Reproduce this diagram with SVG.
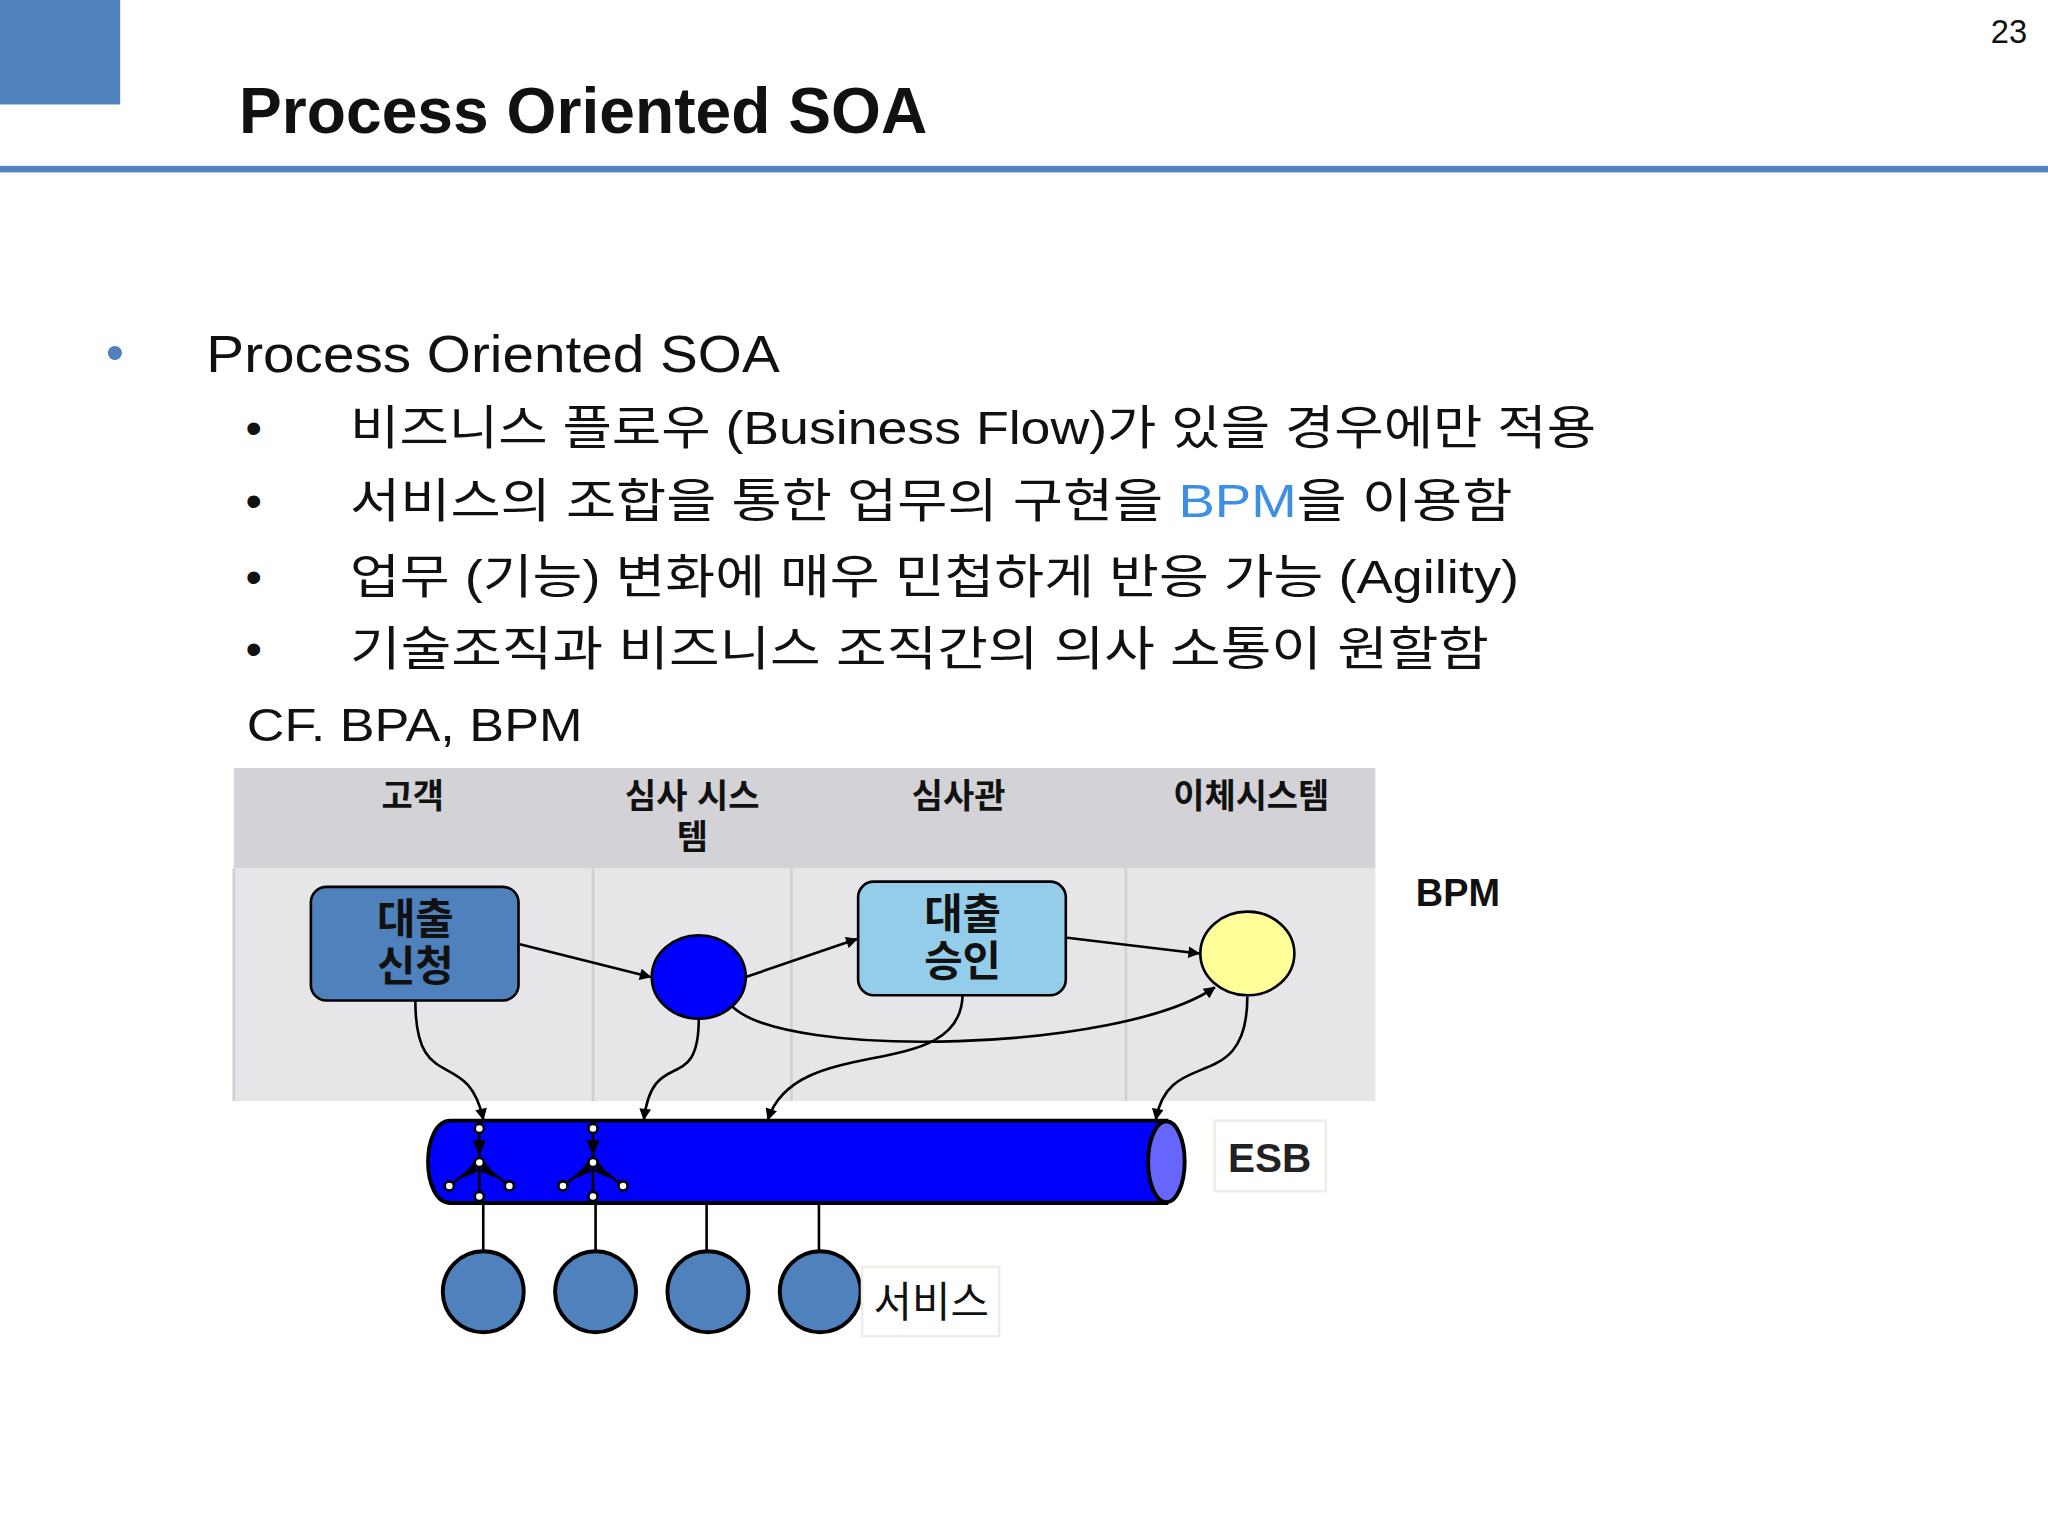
<svg xmlns="http://www.w3.org/2000/svg" width="2048" height="1536" viewBox="0 0 2048 1536">
<defs>
<marker id="ah" viewBox="0 0 10 10" refX="9" refY="5" markerWidth="10" markerHeight="9" orient="auto" markerUnits="userSpaceOnUse"><path d="M0,0 L10,5 L0,10 z" fill="#000"/></marker>
<style>
text{font-family:"Liberation Sans","Noto Sans CJK KR",sans-serif;fill:#111}
.t1{font-size:40px}
.t2{font-size:36px}
.hd{font-size:26px;font-weight:bold;text-anchor:middle}
.bx{font-size:32px;font-weight:bold;text-anchor:middle}
.cn{fill:none;stroke:#000;stroke-width:2;marker-end:url(#ah)}
.svc{fill:#4f81bd;stroke:#000;stroke-width:3}
.dot{fill:#fff;stroke:#000;stroke-width:2}
</style>
</defs>
<rect width="2048" height="1536" fill="#fff"/>
<g transform="scale(1.30612)">
<rect x="0" y="0" width="92" height="80" fill="#4f81bd"/>
<text x="1552" y="33" font-size="25" text-anchor="end">23</text>
<text x="183" y="102" font-size="50" font-weight="bold" textLength="527" lengthAdjust="spacingAndGlyphs">Process Oriented SOA</text>
<rect x="0" y="127" width="1568" height="5" fill="#4f81bd"/>
<text x="81" y="283" font-size="40" style="fill:#4f81bd">•</text>
<text x="158" y="285" class="t1" textLength="439" lengthAdjust="spacingAndGlyphs">Process Oriented SOA</text>
<g class="t2">
<text x="188" y="340">•</text><text x="268" y="340" textLength="954" lengthAdjust="spacingAndGlyphs">비즈니스 플로우 (Business Flow)가 있을 경우에만 적용</text>
<text x="188" y="396">•</text><text x="268" y="396" textLength="890" lengthAdjust="spacingAndGlyphs">서비스의 조합을 통한 업무의 구현을 <tspan style="fill:#3d8fe6">BPM</tspan>을 이용함</text>
<text x="188" y="454">•</text><text x="268" y="454" textLength="895" lengthAdjust="spacingAndGlyphs">업무 (기능) 변화에 매우 민첩하게 반응 가능 (Agility)</text>
<text x="188" y="509">•</text><text x="268" y="509" textLength="872" lengthAdjust="spacingAndGlyphs">기술조직과 비즈니스 조직간의 의사 소통이 원할함</text>
<text x="189" y="567" textLength="257" lengthAdjust="spacingAndGlyphs">CF. BPA, BPM</text>
</g>
<g id="lanes">
<rect x="179" y="588" width="874" height="77" fill="#d3d2d6"/>
<rect x="179" y="665" width="874" height="178" fill="#e6e6e8"/>
<path d="M179,665V843M454,665V843M606,665V843M862,665V843" stroke="#d0d0d4" stroke-width="2"/>
<text x="316" y="619" class="hd">고객</text>
<text x="530" y="619" class="hd">심사 시스</text>
<text x="530" y="650" class="hd">템</text>
<text x="734" y="619" class="hd">심사관</text>
<text x="958" y="619" class="hd">이체시스템</text>
</g>
<g id="box1"><rect x="238" y="679" width="159" height="87" rx="12" fill="#4f81bd" stroke="#000" stroke-width="2"/><text x="318" y="715" class="bx">대출</text><text x="318" y="751" class="bx">신청</text></g>
<g id="c1"><ellipse cx="535" cy="748" rx="36" ry="32" fill="#0000ff" stroke="#000" stroke-width="2"/></g>
<g id="box2"><rect x="657" y="675" width="159" height="87" rx="12" fill="#93cdea" stroke="#000" stroke-width="2"/><text x="737" y="711" class="bx">대출</text><text x="737" y="747" class="bx">승인</text></g>
<g id="c2"><ellipse cx="955" cy="730" rx="36" ry="32" fill="#ffff99" stroke="#000" stroke-width="2"/></g>
<g id="connectors">
<path class="cn" d="M398,723 L498,748"/>
<path class="cn" d="M571,748 L656,719"/>
<path class="cn" d="M817,718 L918,730"/>
<path class="cn" d="M560,770 C600,812 860,805 930,756"/>
<path class="cn" d="M318,766 C318,840 358,800 370,857"/>
<path class="cn" d="M535,780 C535,840 500,800 493,857"/>
<path class="cn" d="M737,762 C735,830 610,790 588,857"/>
<path class="cn" d="M955,763 C955,840 895,800 885,857"/>
<path d="M370,921V958M456,921V958M541,921V958M627,921V958" stroke="#000" stroke-width="2"/>
</g>
<g id="esb">
<path d="M345,858 H893 V921 H345 C322,921 322,858 345,858 z" fill="#0000ff" stroke="#000" stroke-width="3"/>
<ellipse cx="893" cy="889.5" rx="14" ry="31" fill="#6666ff" stroke="#000" stroke-width="3"/>
<g stroke="#000" stroke-width="2">
<path d="M367,864V916M367,890L344,908M367,890L390,908"/>
<path d="M454,864V916M454,890L431,908M454,890L477,908"/>
</g>
<path d="M367,885l-5,-12h10zM354,902l9-13 3,8zM380,902l-9-13-3,8zM454,885l-5,-12h10zM441,902l9-13 3,8zM467,902l-9-13-3,8z" fill="#000"/>
<g class="dot">
<circle cx="367" cy="864" r="3.5"/><circle cx="367" cy="890" r="3.5"/><circle cx="344" cy="908" r="3.5"/><circle cx="390" cy="908" r="3.5"/><circle cx="367" cy="916" r="3.5"/>
<circle cx="454" cy="864" r="3.5"/><circle cx="454" cy="890" r="3.5"/><circle cx="431" cy="908" r="3.5"/><circle cx="477" cy="908" r="3.5"/><circle cx="454" cy="916" r="3.5"/>
</g>
<rect x="930" y="858" width="85" height="54" fill="#fff" stroke="#eeeee8" stroke-width="2"/>
<text x="972" y="897" font-size="31" text-anchor="middle" font-weight="bold" style="fill:#222">ESB</text>
</g>
<g id="services">
<ellipse class="svc" cx="370" cy="989" rx="31" ry="31"/>
<ellipse class="svc" cx="456" cy="989" rx="31" ry="31"/>
<ellipse class="svc" cx="542" cy="989" rx="31" ry="31"/>
<ellipse class="svc" cx="628" cy="989" rx="31" ry="31"/>
<rect x="660" y="970" width="105" height="53" fill="#fff" stroke="#eeeee8" stroke-width="2"/>
<text x="713" y="1008" font-size="32" text-anchor="middle">서비스</text>
</g>
<text x="1084" y="694" font-size="29" font-weight="bold">BPM</text>
</g>
</svg>
